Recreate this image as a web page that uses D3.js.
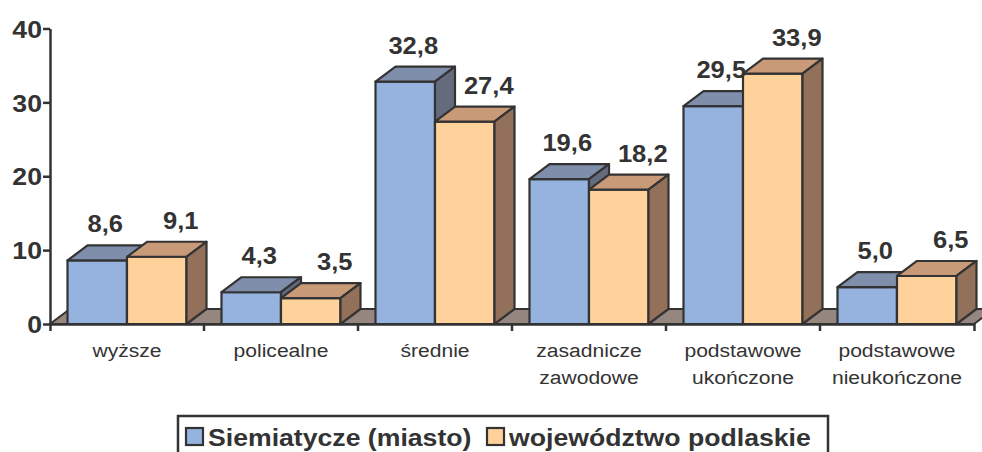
<!DOCTYPE html>
<html>
<head>
<meta charset="utf-8">
<script src="https://cdn.jsdelivr.net/npm/d3@7"></script>
<style>
  body { margin: 0; background: #fff; }
  text { font-family: "Liberation Sans", Arial, sans-serif; fill: #333; }
</style>
</head>
<body>
<div id="chart"></div>
<script>
// data
var categories = ['wyższe', 'policealne', 'średnie', 'zasadnicze zawodowe', 'podstawowe ukończone', 'podstawowe nieukończone'];
var categoryLines = [['wyższe'], ['policealne'], ['średnie'], ['zasadnicze', 'zawodowe'], ['podstawowe', 'ukończone'], ['podstawowe', 'nieukończone']];
var seriesNames = ['Siemiatycze (miasto)', 'województwo podlaskie'];
var siemiatycze = [8.6, 4.3, 32.8, 19.6, 29.5, 5.0];
var podlaskie = [9.1, 3.5, 27.4, 18.2, 33.9, 6.5];
var yTicks = [0, 10, 20, 30, 40];

var svgWidth = 982;
var svgHeight = 452;

// 3d depth offset and horizontal text stretch of the original
var dx = 20, dy = -15;
var sx = 1.11;
var edge = '#333';

var colors = [
  { front: '#95b3de', top: '#7f8eaa', side: '#646b7d' },
  { front: '#ffd29b', top: '#c89a78', side: '#93705a' }
];

var svg = d3.select('#chart')
  .append('svg')
  .attr('width', svgWidth)
  .attr('height', svgHeight);

var x = d3.scaleBand()
  .domain(categories)
  .range([50, 974]);

var x1 = d3.scaleBand()
  .domain(seriesNames)
  .range([17.5, 136.5]);

var y = d3.scaleLinear()
  .domain([0, 40])
  .range([324, 28.5]);

var y0 = y(0);

// floor
svg.append('polygon')
  .attr('points', [[50, y0], [974, y0], [974 + dx, y0 + dy], [50 + dx, y0 + dy]].join(' '))
  .attr('fill', '#968680')
  .attr('stroke', edge)
  .attr('stroke-width', 2);

// bars
var data = categories.map(function(c, i) {
  return { cat: c, values: [siemiatycze[i], podlaskie[i]] };
});

var bw = x1.bandwidth();

data.forEach(function(d) {
  d.values.forEach(function(v, s) {
    var left = x(d.cat) + x1(seriesNames[s]);
    var right = left + bw;
    var top = y(v);
    var g = svg.append('g');
    g.append('polygon')
      .attr('points', [[left, top], [right, top], [right, y0], [left, y0]].join(' '))
      .attr('fill', colors[s].front);
    g.append('polygon')
      .attr('points', [[left, top], [left + dx, top + dy], [right + dx, top + dy], [right, top]].join(' '))
      .attr('fill', colors[s].top);
    g.append('polygon')
      .attr('points', [[right, top], [right + dx, top + dy], [right + dx, y0 + dy], [right, y0]].join(' '))
      .attr('fill', colors[s].side);
    g.selectAll('polygon')
      .attr('stroke', edge)
      .attr('stroke-width', 2.2)
      .attr('stroke-linejoin', 'round');
  });
});

// value labels
data.forEach(function(d) {
  d.values.forEach(function(v, s) {
    var cx = x(d.cat) + x1(seriesNames[s]) + bw / 2 + (s === 0 ? 8 : 24);
    svg.append('text')
      .attr('transform', `translate(${cx}, ${y(v) + dy - 13}) scale(${sx}, 1)`)
      .attr('text-anchor', 'middle')
      .style('font-size', '23px')
      .style('font-weight', 'bold')
      .text(v.toFixed(1).replace('.', ','));
  });
});

// y axis
var leftAxis = d3.axisLeft(y)
  .tickValues(yTicks)
  .tickSize(7)
  .tickSizeOuter(0)
  .tickPadding(2);

var yAxis = svg.append('g')
  .attr('transform', 'translate(50, 0)')
  .call(leftAxis);

yAxis.selectAll('path, line')
  .attr('stroke', edge)
  .attr('stroke-width', 2.5);

yAxis.selectAll('text')
  .attr('x', null)
  .attr('transform', `translate(-8, 0) scale(${sx}, 1)`)
  .attr('dy', '0.36em')
  .style('font-size', '24px')
  .style('font-weight', 'bold')
  .style('font-family', '"Liberation Sans", Arial, sans-serif')
  .attr('fill', '#333');

// x axis
var bottomAxis = d3.axisBottom(x)
  .tickSize(0)
  .tickSizeOuter(7)
  .tickFormat('');

var xAxis = svg.append('g')
  .attr('transform', `translate(0, ${y0})`)
  .call(bottomAxis);

xAxis.selectAll('.tick').remove();
xAxis.select('.domain')
  .attr('stroke', edge)
  .attr('stroke-width', 2.5);

xAxis.selectAll('.sep')
  .data(categories.slice(1))
  .enter()
  .append('line')
  .attr('class', 'sep')
  .attr('x1', d => x(d))
  .attr('x2', d => x(d))
  .attr('y1', 0)
  .attr('y2', 7)
  .attr('stroke', edge)
  .attr('stroke-width', 2.5);

// category labels
categories.forEach(function(c, i) {
  var t = svg.append('text')
    .attr('transform', `translate(${x(c) + x.bandwidth() / 2}, 357) scale(${sx}, 1)`)
    .attr('text-anchor', 'middle')
    .style('font-size', '19px');
  categoryLines[i].forEach(function(line, k) {
    t.append('tspan')
      .attr('x', 0)
      .attr('y', k * 27)
      .text(line);
  });
});

// legend
var legend = svg.append('g');

legend.append('rect')
  .attr('x', 178)
  .attr('y', 416)
  .attr('width', 650)
  .attr('height', 50)
  .attr('fill', '#fff')
  .attr('stroke', edge)
  .attr('stroke-width', 2.5);

var legendX = [186, 487];

seriesNames.forEach(function(name, s) {
  legend.append('rect')
    .attr('x', legendX[s])
    .attr('y', 428)
    .attr('width', 17)
    .attr('height', 17)
    .attr('fill', colors[s].front)
    .attr('stroke', edge)
    .attr('stroke-width', 2.2);
  legend.append('text')
    .attr('transform', `translate(${legendX[s] + 22}, 446) scale(${sx}, 1)`)
    .style('font-size', '24px')
    .style('font-weight', 'bold')
    .text(name);
});
</script>
</body>
</html>
